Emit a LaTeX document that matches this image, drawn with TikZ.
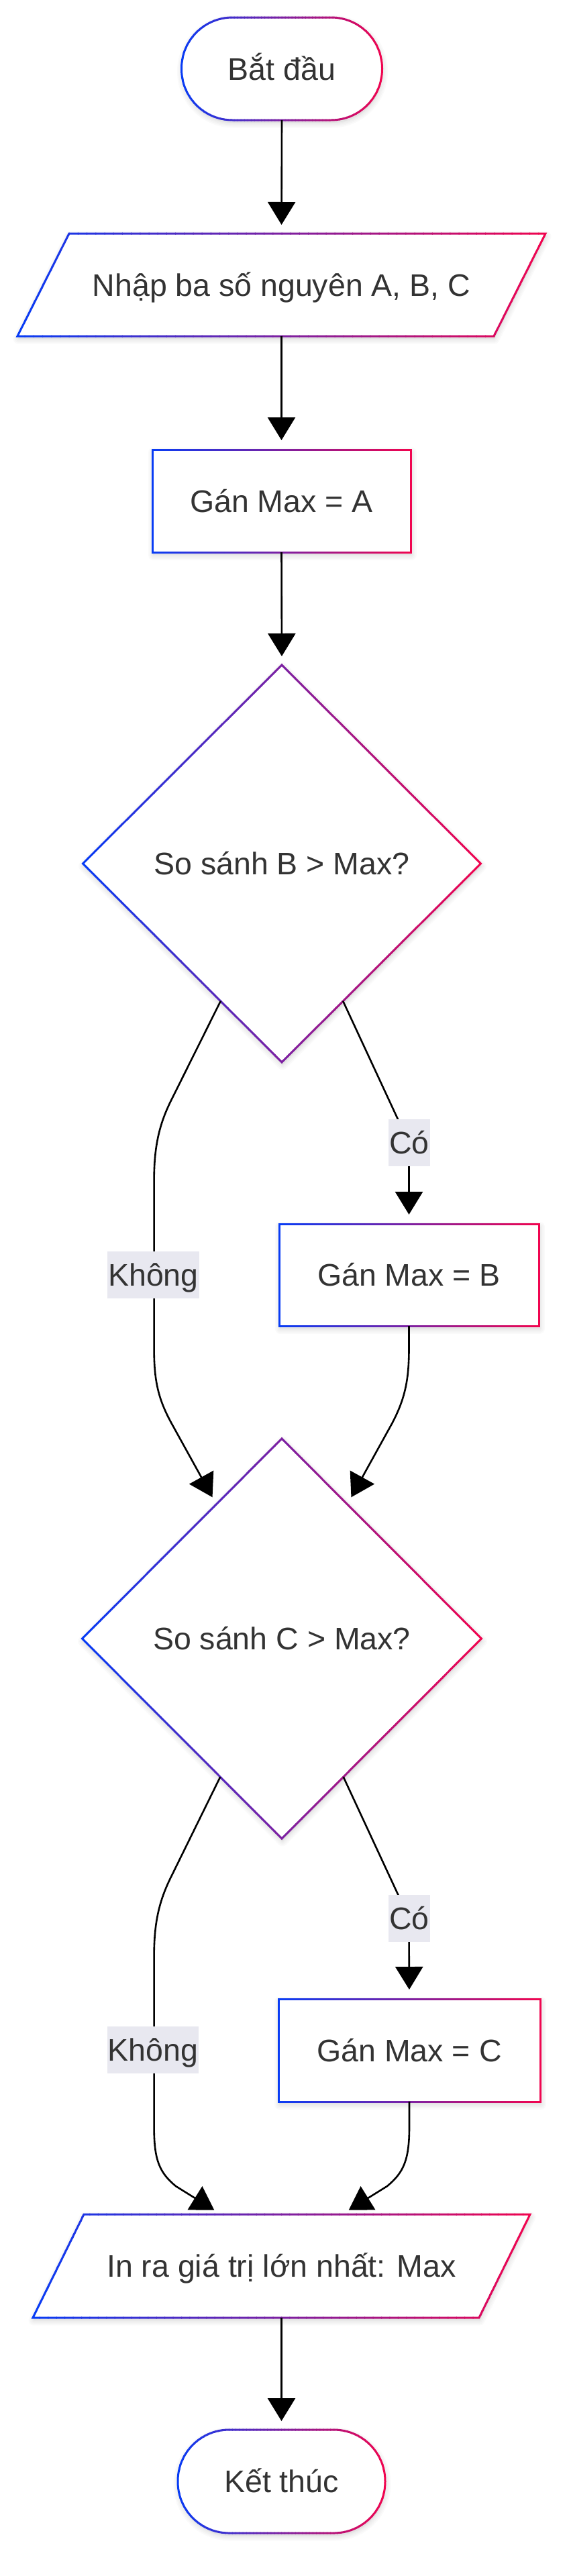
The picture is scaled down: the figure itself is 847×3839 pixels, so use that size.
\documentclass[tikz,border=0pt]{standalone}
\usepackage{fontspec}
\setmainfont{Liberation Sans}
\usetikzlibrary{shapes.geometric,arrows.meta,calc}
\definecolor{gL}{RGB}{8,60,245}
\definecolor{gR}{RGB}{242,4,78}
\definecolor{txt}{RGB}{51,51,51}
\definecolor{lblbg}{RGB}{232,232,240}
\newcommand{\gradstroke}[4]{%
  \begin{scope}[transform canvas={shift={(1pt,-4pt)}}]
    \foreach \gw in {3,7,11,15}{\draw[line width=\gw pt, black, opacity=0.018, line join=round, #1] #4;}
    \fill[black, opacity=0.035, #1] #4;
  \end{scope}
  \fill[white, #1] #4;
  \foreach \gi in {0,...,59}{%
    \pgfmathsetmacro{\gxa}{#2+(#3-#2)/60*\gi-0.5}%
    \pgfmathsetmacro{\gxb}{#2+(#3-#2)/60*(\gi+1)+0.5}%
    \pgfmathtruncatemacro{\gpp}{(\gi+0.5)*100/60}%
    \begin{scope}
      \clip (\gxa,10) rectangle (\gxb,-3900);
      \draw[border,draw=gR!\gpp!gL,#1] #4;
    \end{scope}
  }%
}
\tikzset{
  base/.style={font=\fontsize{46.5}{56}\selectfont, text=txt, inner sep=0pt, outer sep=0pt, text height=33pt, text depth=0pt},
  boxnode/.style={base, rectangle, minimum height=153pt},
  decnode/.style={base, diamond, aspect=1},
  border/.style={line width=3pt, line join=miter},
  edge/.style={draw=black, line width=2.6pt, -{Triangle[length=34pt,width=41pt]}},
  elbl/.style={base, fill=lblbg, inner xsep=1pt, minimum height=70pt},
}
\begin{document}
\begin{tikzpicture}[x=1pt,y=1pt]
\fill[white] (0,0) rectangle (847,-3839);
\useasboundingbox (0,0) rectangle (847,-3839);

% nodes (positions and anchors; outlines are drawn below)
\node[boxnode, minimum width=299pt] (start) at (420,-102.5) {};
\node[boxnode, minimum width=710pt] (inp) at (419.5,-424.5) {};
\node[boxnode, minimum width=385pt] (gA) at (419.5,-746.5) {};
\node[decnode, minimum width=593pt, minimum height=592pt] (d1) at (420,-1287) {};
\node[boxnode, minimum width=387pt, minimum height=152pt] (gB) at (609.5,-1900) {};
\node[decnode, minimum width=595pt, minimum height=596pt] (d2) at (420,-2442) {};
\node[boxnode, minimum width=390pt] (gC) at (610,-3055.5) {};
\node[boxnode, minimum width=665pt, minimum height=154pt] (out) at (419.5,-3377) {};
\node[boxnode, minimum width=309pt, minimum height=154pt] (end) at (419.5,-3698) {};

% shadows, fills and gradient borders
\gradstroke{rounded corners=76pt}{268}{572}{(start.north west) rectangle (start.south east)}
\gradstroke{}{24}{816}{($(inp.north west)+(38.5,0)$) -- ($(inp.north east)+(38.5,0)$) -- ($(inp.south east)+(-38.5,0)$) -- ($(inp.south west)+(-38.5,0)$) -- cycle}
\gradstroke{}{225}{614}{(gA.north west) rectangle (gA.south east)}
\gradstroke{}{121}{719}{(d1.north) -- (d1.east) -- (d1.south) -- (d1.west) -- cycle}
\gradstroke{}{414}{805}{(gB.north west) rectangle (gB.south east)}
\gradstroke{}{120}{720}{(d2.north) -- (d2.east) -- (d2.south) -- (d2.west) -- cycle}
\gradstroke{}{413}{807}{(gC.north west) rectangle (gC.south east)}
\gradstroke{}{47}{792}{($(out.north west)+(38,0)$) -- ($(out.north east)+(38,0)$) -- ($(out.south east)+(-38,0)$) -- ($(out.south west)+(-38,0)$) -- cycle}
\gradstroke{rounded corners=76.5pt}{263}{576}{(end.north west) rectangle (end.south east)}

% texts
\node[base] (startT) at (start.center) {Bắt đầu};
\node[base] (inpT) at (inp.center) {Nhập ba số nguyên A, B, C};
\node[base] (gAT) at (gA.center) {Gán Max = A};
\node[base] (d1T) at (d1.center) {So sánh B > Max?};
\node[base] (gBT) at (gB.center) {Gán Max = B};
\node[base] (d2T) at (d2.center) {So sánh C > Max?};
\node[base] (gCT) at (gC.center) {Gán Max = C};
\node[base] (outT) at (out.center) {In ra giá trị lớn nhất: Max};
\node[base] (endT) at (end.center) {Kết thúc};

% connectors
\draw[edge, shorten >=13pt] (start.south) -- (inp.north);
\draw[edge, shorten >=14pt] (inp.south) -- (gA.north);
\draw[edge, shorten >=13pt] (gA.south) -- (d1.north);
\draw[edge, shorten >=14pt] (d1.294) -- (593,-1668) .. controls (601,-1685) and (609.5,-1697) .. (609.5,-1720) -- (gB.north);
\draw[edge, shorten >=12pt] (d1.246) -- (255,-1640) .. controls (236,-1678) and (229.6,-1712) .. (229.6,-1760) -- (229.6,-2010) .. controls (229.6,-2058) and (236,-2085) .. (255,-2120) -- (d2.116);
\draw[edge, shorten >=12pt] (gB.south) -- (609.5,-2010) .. controls (609.5,-2058) and (603,-2085) .. (585,-2120) -- (d2.64);
\draw[edge, shorten >=14pt] (d2.294) -- (593,-2823) .. controls (601,-2840) and (609.5,-2852) .. (609.5,-2875) -- (gC.north);
\draw[edge, shorten >=12pt] (d2.246) -- (255,-2797) .. controls (236,-2835) and (229.6,-2868) .. (229.6,-2916) -- (229.6,-3170) .. controls (229.6,-3220) and (238,-3238) .. (262,-3258) -- ($(out.north)+(-90,0)$);
\draw[edge, shorten >=12pt] (gC.south) -- (610,-3170) .. controls (610,-3220) and (601,-3238) .. (577,-3258) -- ($(out.north)+(90,0)$);
\draw[edge, shorten >=13pt] (out.south) -- (end.north);

% edge labels
\node[elbl] (c1) at (610,-1703) {Có};
\node[elbl] (k1) at (228.5,-1900) {Không};
\node[elbl] (c2) at (610,-2859) {Có};
\node[elbl] (k2) at (228,-3055) {Không};
\end{tikzpicture}
\end{document}
